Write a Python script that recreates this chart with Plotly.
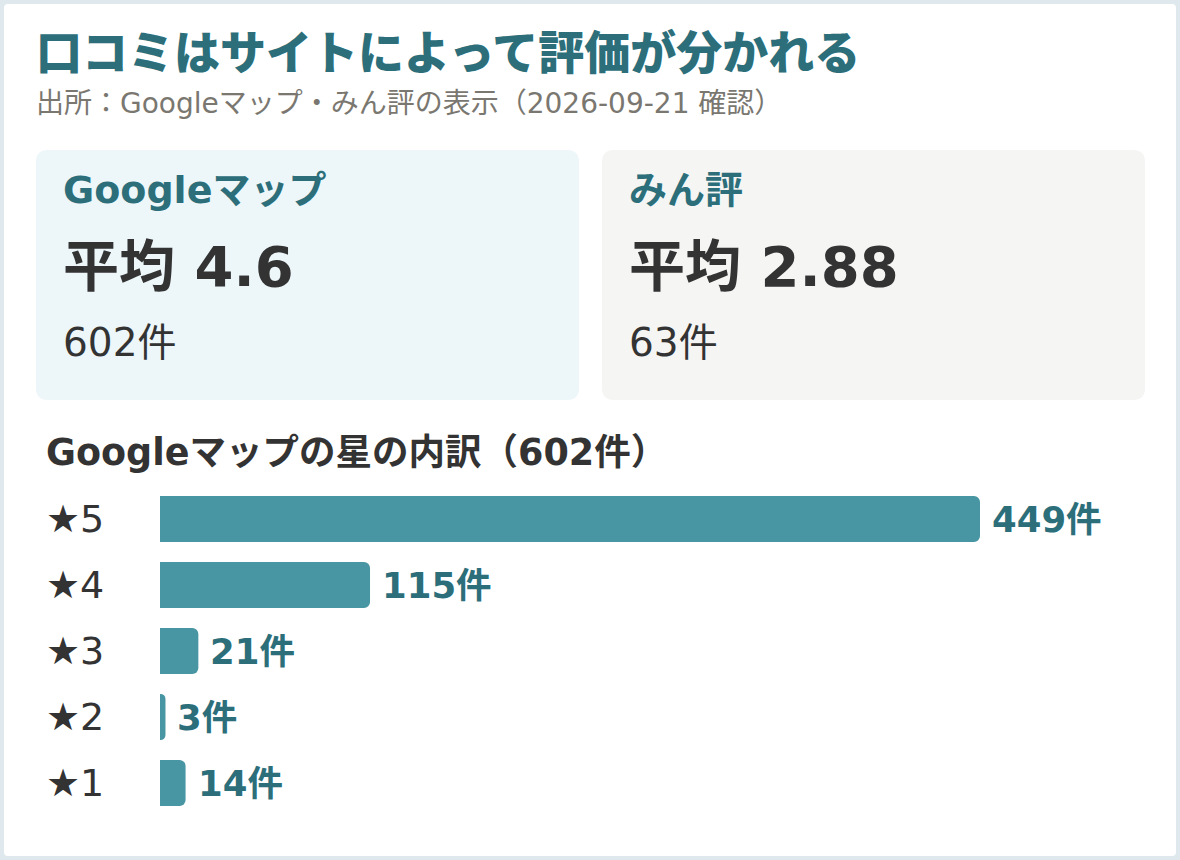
import plotly.graph_objects as go

# ---- data ----
title_text = "口コミはサイトによって評価が分かれる"
source_text = "出所：Googleマップ・みん評の表示（2026-09-21 確認）"
sites = ["Googleマップ", "みん評"]
site_avgs = ["4.6", "2.88"]
site_counts = [602, 63]
star_labels = ["★5", "★4", "★3", "★2", "★1"]
star_counts = [449, 115, 21, 3, 14]
breakdown_title = "Googleマップの星の内訳（602件）"

W, H = 1180, 860
FONT = "DejaVu Sans, Noto Sans CJK JP"
TITLE_FONT = "Noto Sans CJK JP"
TEAL_DARK = "#2c6f7b"
BAR = "#4896a3"
INK = "#333333"


def px(x):
    return x / W


def py(y):
    return 1 - y / H


def rrect(x0, y0, x1, y1, r):
    return (
        f"M {px(x0 + r)} {py(y0)} L {px(x1 - r)} {py(y0)} "
        f"Q {px(x1)} {py(y0)} {px(x1)} {py(y0 + r)} "
        f"L {px(x1)} {py(y1 - r)} "
        f"Q {px(x1)} {py(y1)} {px(x1 - r)} {py(y1)} "
        f"L {px(x0 + r)} {py(y1)} "
        f"Q {px(x0)} {py(y1)} {px(x0)} {py(y1 - r)} "
        f"L {px(x0)} {py(y0 + r)} "
        f"Q {px(x0)} {py(y0)} {px(x0 + r)} {py(y0)} Z"
    )


fig = go.Figure()
fig.add_trace(
    go.Bar(
        x=star_counts,
        y=star_labels,
        orientation="h",
        marker=dict(color=BAR, line=dict(width=0)),
        width=0.7,
        hoverinfo="skip",
        showlegend=False,
    )
)

shapes = [
    dict(type="path", path=rrect(4, 4, 1176, 856, 4), xref="paper", yref="paper",
         fillcolor="#ffffff", line=dict(width=0), layer="below"),
    dict(type="path", path=rrect(36, 150, 579, 400, 12), xref="paper", yref="paper",
         fillcolor="#edf6f9", line=dict(width=0), layer="below"),
    dict(type="path", path=rrect(602, 150, 1145, 400, 12), xref="paper", yref="paper",
         fillcolor="#f5f5f4", line=dict(width=0), layer="below"),
]

ann = []


def text(x, y, s, size, color, weight=400, family=FONT):
    ann.append(dict(
        x=px(x), y=py(y), xref="paper", yref="paper", xanchor="left", yanchor="middle",
        text=s, showarrow=False,
        font=dict(family=family, size=size, color=color, weight=weight),
    ))


text(34, 49, title_text, 46, TEAL_DARK, 900, TITLE_FONT)
text(34, 104, source_text, 28, "#7a7770")

card_x = [61, 627]
for i, name in enumerate(sites):
    text(card_x[i], 190, name, 38, TEAL_DARK, 700)
    text(card_x[i], 266, f"平均 {site_avgs[i]}", 56, INK, 700)
    text(card_x[i], 342, f"{site_counts[i]}件", 39, INK)

text(44, 452, breakdown_title, 36.5, INK, 700)

for lab, c in zip(star_labels, star_counts):
    ann.append(dict(x=px(44), y=lab, xref="paper", yref="y", xanchor="left", yanchor="middle",
                    text=lab, showarrow=False, font=dict(family=FONT, size=38, color=INK)))
    ann.append(dict(x=c, y=lab, xref="x", yref="y", xanchor="left", yanchor="middle",
                    xshift=10, text=f"{c}件", showarrow=False,
                    font=dict(family=FONT, size=35.5, color=TEAL_DARK, weight=700)))

fig.update_layout(
    width=W, height=H,
    margin=dict(l=0, r=0, t=0, b=0),
    paper_bgcolor="#dfe9ed",
    plot_bgcolor="rgba(0,0,0,0)",
    barcornerradius=6,
    shapes=shapes,
    annotations=ann,
    xaxis=dict(domain=[px(160), px(1140)], range=[0, 449 * 980 / 820], visible=False, fixedrange=True),
    yaxis=dict(domain=[py(816), py(486)], categoryorder="array", categoryarray=star_labels,
               autorange="reversed", visible=False, fixedrange=True),
    font=dict(family=FONT),
)

fig.write_html("out.html", config={"displayModeBar": False},
               post_script="document.body.style.margin='0';document.body.style.overflow='hidden';")
